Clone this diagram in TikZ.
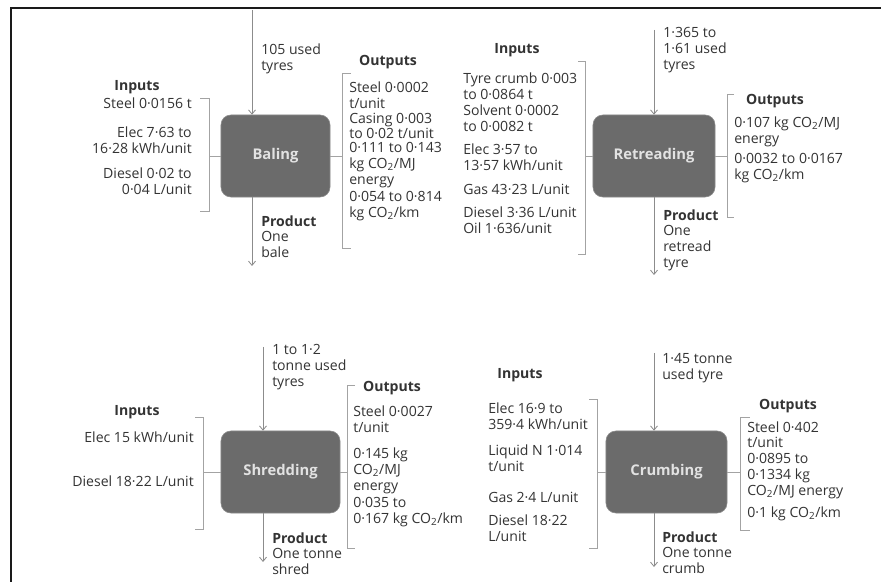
\documentclass[tikz,border=0pt]{standalone}
\usepackage{fontspec}
\setmainfont{Open Sans}
\usepackage{tikz}
\usetikzlibrary{arrows.meta}
\definecolor{boxGrey}{HTML}{6B6B6B}
\definecolor{boxEdge}{HTML}{8A8A8A}
\definecolor{boxLabel}{HTML}{E2E2E2}
\definecolor{textGrey}{HTML}{333333}
\definecolor{lineGrey}{HTML}{8C8C8C}
\definecolor{frameDark}{HTML}{1A1A1A}
\newcommand{\cotwo}{CO\textsubscript{2}}

\begin{document}
\begin{tikzpicture}[x=0.025cm, y=-0.025cm,
  font=\fontsize{10}{11.2}\selectfont, text=textGrey,
  procbox/.style={draw=boxEdge, fill=boxGrey, rounded corners=7pt, minimum height=2.05cm, text=boxLabel, font=\fontsize{10.5}{12}\selectfont\bfseries, inner sep=0},
  lbl/.style={inner sep=0, align=left, anchor=west},
  lblr/.style={inner sep=0, align=right, anchor=east},
  head/.style={inner sep=0, font=\fontsize{10}{12}\selectfont\bfseries},
  flow/.style={draw=lineGrey, line width=0.6pt, -{Straight Barb[length=3pt,width=5pt]}},
  brace/.style={draw=lineGrey!80, line width=0.5pt}]
  \useasboundingbox (0,0) rectangle (881,582);
  \draw[frameDark, line width=1.4pt] (11,582) -- (11,8) -- (881,8);

  % baling
  \node[procbox, minimum width=2.725cm] (bal) at (275.5,156) {Baling};
  \coordinate (balTop) at (252,10);
  \coordinate (balEnd) at (252,266);
  \draw[flow] (balTop) -- (balTop |- bal.north);
  \draw[flow] (balTop |- bal.south) -- (balEnd);
  \node[lbl] (balFeed) at (261,58.5) {105 used\\tyres};
  \node[lbl] (balProd) at (261,236.5) {\textbf{Product}\\One\\bale};
  \node[head] (balInHead) at (137,87) {Inputs};
  \draw[brace] (200,98) -- (209,98) -- (209,211) -- (200,211);
  \draw[brace] (bal.west) -- ++(-12,0);
  \node[lblr] (balIn1) at (192,103) {Steel 0·0156 t};
  \node[lblr] (balIn2) at (192,140.5) {Elec 7·63 to\\16·28 kWh/unit};
  \node[lblr] (balIn3) at (192,181.5) {Diesel 0·02 to\\0·04 L/unit};
  \node[head] (balOutHead) at (388,62) {Outputs};
  \draw[brace] (351,73) -- (342,73) -- (342,248) -- (351,248);
  \draw[brace] (bal.east) -- ++(12,0);
  \node[lbl] (balOut1) at (349,95) {Steel 0·0002\\t/unit};
  \node[lbl] (balOut2) at (349,126) {Casing 0·003\\to 0·02 t/unit};
  \node[lbl] (balOut3) at (349,165) {0·111 to 0·143\\kg \cotwo/MJ\\energy};
  \node[lbl] (balOut4) at (349,206) {0·054 to 0·814\\kg \cotwo/km};

  % retreading
  \node[procbox, minimum width=3.05cm] (ret) at (654,156) {Retreading};
  \coordinate (retTop) at (654,30);
  \coordinate (retEnd) at (654,275);
  \draw[flow] (retTop) -- (ret.north);
  \draw[flow] (ret.south) -- (retEnd);
  \node[lbl] (retFeed) at (663,50) {1·365 to\\1·61 used\\tyres};
  \node[lbl] (retProd) at (663,240) {\textbf{Product}\\One\\retread\\tyre};
  \node[head] (retInHead) at (517,50) {Inputs};
  \draw[brace] (578,61) -- (585,61) -- (585,254) -- (578,254);
  \draw[brace] (ret.west) -- ++(-8,0);
  \node[lbl] (retIn1) at (463,86.5) {Tyre crumb 0·003\\to 0·0864 t};
  \node[lbl] (retIn2) at (463,118.5) {Solvent 0·0002\\to 0·0082 t};
  \node[lbl] (retIn3) at (463,157.5) {Elec 3·57 to\\13·57 kWh/unit};
  \node[lbl] (retIn4) at (463,189) {Gas 43·23 L/unit};
  \node[lbl] (retIn5) at (463,220) {Diesel 3·36 L/unit\\Oil 1·636/unit};
  \node[head] (retOutHead) at (775,101) {Outputs};
  \draw[brace] (734,94) -- (727,94) -- (727,217) -- (734,217);
  \draw[brace] (ret.east) -- ++(12,0);
  \node[lbl] (retOut1) at (734,131.5) {0·107 kg \cotwo/MJ\\energy};
  \node[lbl] (retOut2) at (734,168) {0·0032 to 0·0167\\kg \cotwo/km};

  % shredding
  \node[procbox, minimum width=2.975cm] (shr) at (280.5,472) {Shredding};
  \coordinate (shrTop) at (263,347);
  \coordinate (shrEnd) at (263,562);
  \draw[flow] (shrTop) -- (shrTop |- shr.north);
  \draw[flow] (shrTop |- shr.south) -- (shrEnd);
  \node[lbl] (shrFeed) at (272,367) {1 to 1·2\\tonne used\\tyres};
  \node[lbl] (shrProd) at (272,553.5) {\textbf{Product}\\One tonne\\shred};
  \node[head] (shrInHead) at (137,412) {Inputs};
  \draw[brace] (195,417) -- (203,417) -- (203,529) -- (195,529);
  \draw[brace] (shr.west) -- ++(-18,0);
  \node[lblr] (shrIn1) at (194,437) {Elec 15 kWh/unit};
  \node[lblr] (shrIn2) at (194,481) {Diesel 18·22 L/unit};
  \node[head] (shrOutHead) at (392,388) {Outputs};
  \draw[brace] (355,385) -- (347,385) -- (347,548) -- (355,548);
  \draw[brace] (shr.east) -- ++(7,0);
  \node[lbl] (shrOut1) at (353,419.5) {Steel 0·0027\\t/unit};
  \node[lbl] (shrOut2) at (353,471) {0·145 kg\\\cotwo/MJ\\energy};
  \node[lbl] (shrOut3) at (353,512) {0·035 to\\0·167 kg \cotwo/km};

  % crumbing
  \node[procbox, minimum width=3.025cm] (cru) at (666.5,472) {Crumbing};
  \coordinate (cruTop) at (654,353);
  \coordinate (cruEnd) at (654,567);
  \draw[flow] (cruTop) -- (cruTop |- cru.north);
  \draw[flow] (cruTop |- cru.south) -- (cruEnd);
  \node[lbl] (cruFeed) at (662,368.5) {1·45 tonne\\used tyre};
  \node[lbl] (cruProd) at (662,552.5) {\textbf{Product}\\One tonne\\crumb};
  \node[head] (cruInHead) at (520,375) {Inputs};
  \draw[brace] (589,399) -- (597,399) -- (597,548) -- (589,548);
  \draw[brace] (cru.west) -- ++(-9,0);
  \node[lbl] (cruIn1) at (488,416) {Elec 16·9 to\\359·4 kWh/unit};
  \node[lbl] (cruIn2) at (488,458) {Liquid N 1·014\\t/unit};
  \node[lbl] (cruIn3) at (488,497) {Gas 2·4 L/unit};
  \node[lbl] (cruIn4) at (488,528) {Diesel 18·22\\L/unit};
  \node[head] (cruOutHead) at (788,406) {Outputs};
  \draw[brace] (750,417) -- (740,417) -- (740,530) -- (750,530);
  \draw[brace] (cru.east) -- ++(13,0);
  \node[lbl] (cruOut1) at (747,460) {Steel 0·402\\t/unit\\0·0895 to\\0·1334 kg\\\cotwo/MJ energy};
  \node[lbl] (cruOut2) at (747,514) {0·1 kg \cotwo/km};
\end{tikzpicture}
\end{document}
